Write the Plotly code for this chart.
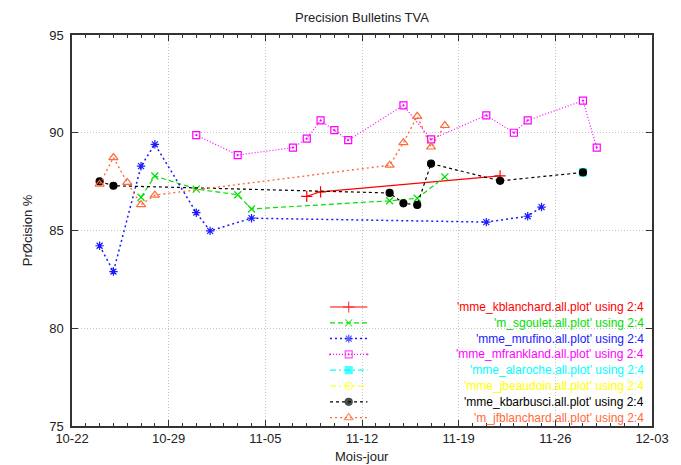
import plotly.graph_objects as go

YEAR = 2007

# ---- data (month-day, precision %) ----
kblanchard_dates = ["11-08", "11-09", "11-22"]
kblanchard_vals = [86.75, 86.98, 87.79]

sgoulet_dates = ["10-27", "10-28", "10-31", "11-03", "11-04", "11-14", "11-16", "11-18"]
sgoulet_vals = [86.70, 87.79, 87.12, 86.83, 86.10, 86.52, 86.65, 87.74]

mrufino_dates = ["10-24", "10-25", "10-27", "10-28", "10-31", "11-01", "11-04", "11-21", "11-24", "11-25"]
mrufino_vals = [84.22, 82.90, 88.29, 89.41, 85.91, 84.98, 85.63, 85.43, 85.73, 86.20]

mfrankland_dates = ["10-31", "11-03", "11-07", "11-08", "11-09", "11-10", "11-11", "11-15", "11-17",
                    "11-21", "11-23", "11-24", "11-28", "11-29"]
mfrankland_vals = [89.88, 88.86, 89.24, 89.70, 90.63, 90.13, 89.62, 91.40, 89.66,
                   90.89, 90.00, 90.63, 91.64, 89.24]

alaroche_dates = ["11-28"]
alaroche_vals = [87.97]

jbeaudoin_dates = []
jbeaudoin_vals = []

kbarbusci_dates = ["10-24", "10-25", "11-14", "11-15", "11-16", "11-17", "11-22", "11-28"]
kbarbusci_vals = [87.51, 87.29, 86.92, 86.39, 86.31, 88.42, 87.54, 87.97]

jfblanchard_dates = ["10-24", "10-25", "10-26", "10-27", "10-28", "11-14", "11-15", "11-16", "11-17", "11-18"]
jfblanchard_vals = [87.37, 88.73, 87.46, 86.32, 86.81, 88.34, 89.49, 90.84, 89.27, 90.37]

tick_labels = ["10-22", "10-29", "11-05", "11-12", "11-19", "11-26", "12-03"]

series = [
    ("'mme_kblanchard.all.plot' using 2:4", kblanchard_dates, kblanchard_vals,
     "#ff0000", "solid", "cross-thin-open", 8, 1.2),
    ("'m_sgoulet.all.plot' using 2:4", sgoulet_dates, sgoulet_vals,
     "#00e000", "5px,3px", "x-thin-open", 7, 1.2),
    ("'mme_mrufino.all.plot' using 2:4", mrufino_dates, mrufino_vals,
     "#1a1aff", "2px,3px", "asterisk-open", 7, 1.5),
    ("'mme_mfrankland.all.plot' using 2:4", mfrankland_dates, mfrankland_vals,
     "#ff00ff", "1px,2px", "square-open-dot", 7, 1.2),
    ("'mme_alaroche.all.plot' using 2:4", alaroche_dates, alaroche_vals,
     "#00ffff", "6px,3px,2px,3px", "square", 7, 1.2),
    ("'mme_jbeaudoin.all.plot' using 2:4", jbeaudoin_dates, jbeaudoin_vals,
     "#ffff00", "6px,3px,2px,3px", "circle-open", 7, 1.2),
    ("'mme_kbarbusci.all.plot' using 2:4", kbarbusci_dates, kbarbusci_vals,
     "#000000", "3px,3px", "circle", 7, 1.2),
    ("'m_jfblanchard.all.plot' using 2:4", jfblanchard_dates, jfblanchard_vals,
     "#ff6a3a", "2px,3px", "triangle-up-open", 8, 1.4),
]

FONT = "Liberation Sans, Arial, sans-serif"
FS = 13
KEY_FS = 12

# page offset (body margin) and target geometry in window pixels
OFF = 8
W, H = 681 - OFF, 465 - OFF
plot_top, plot_bot = 35, 426
plot_left, plot_right = 72, 661
PW, PH = plot_right - plot_left, plot_bot - plot_top

fig = go.Figure()

for name, dates, vals, color, dash, sym, msize, lw in series:
    fig.add_trace(go.Scatter(
        x=[f"{YEAR}-{d}" for d in dates], y=vals, mode="lines+markers",
        name=name, showlegend=False,
        line=dict(color=color, dash=dash, width=lw),
        marker=dict(symbol=sym, size=msize, color=color, line=dict(color=color, width=1.2)),
    ))

# ---- gnuplot-style key (samples on an overlay axis in plot-fraction units) ----
row0, row_step = 307, 15.8
sx0, sx1 = 334, 372
tx = 654
annotations = []
for i, (name, dates, vals, color, dash, sym, msize, lw) in enumerate(series):
    ypix = row0 + i * row_step
    yf = (plot_bot - ypix) / PH
    x0f = (sx0 - plot_left) / PW
    x1f = (sx1 - plot_left) / PW
    fig.add_trace(go.Scatter(
        x=[x0f, (x0f + x1f) / 2, x1f], y=[yf, yf, yf], mode="lines+markers",
        xaxis="x2", yaxis="y2", showlegend=False, hoverinfo="skip",
        line=dict(color=color, dash=dash, width=lw),
        marker=dict(symbol=sym, size=[0, msize, 0], color=color, line=dict(color=color, width=1.2)),
    ))
    annotations.append(dict(
        xref="paper", yref="paper", x=(tx - plot_left) / PW, y=yf,
        xanchor="right", yanchor="middle", text=name, showarrow=False,
        borderpad=0,
        font=dict(family=FONT, size=KEY_FS, color=color),
    ))

annotations.append(dict(
    xref="paper", yref="paper", x=0.5, y=-(457 - plot_bot) / PH,
    xanchor="center", yanchor="middle", text="Mois-jour", showarrow=False,
    font=dict(family=FONT, size=FS, color="#222"),
))
annotations.append(dict(
    xref="paper", yref="paper", x=-(plot_left - 27) / PW, y=0.5,
    xanchor="center", yanchor="middle", text="PrØcision %", showarrow=False, textangle=-90,
    font=dict(family=FONT, size=FS, color="#222"),
))

fig.update_layout(
    width=W, height=H,
    margin=dict(l=plot_left - OFF, r=(OFF + W) - plot_right, t=plot_top - OFF, b=(OFF + H) - plot_bot),
    paper_bgcolor="white", plot_bgcolor="white",
    font=dict(family=FONT, size=FS, color="#222"),
    title=dict(text="Precision Bulletins TVA", x=0.5, xref="paper", xanchor="center",
               y=1 - (17 - OFF) / H, yref="container", yanchor="middle",
               font=dict(family=FONT, size=FS, color="#222")),
    xaxis=dict(
        type="date", range=[f"{YEAR}-10-22", f"{YEAR}-12-03"],
        tickvals=[f"{YEAR}-{t}" for t in tick_labels], ticktext=tick_labels,
        ticks="inside", ticklen=6, tickcolor="#333", mirror="allticks",
        showline=True, linecolor="#333", linewidth=1.5,
        showgrid=True, gridcolor="#c4c4c4", griddash="1px,2px", gridwidth=1,
        zeroline=False,
        minor=dict(dtick=86400000, tick0=f"{YEAR}-10-22", ticks="inside", ticklen=3,
                   tickcolor="#333", showgrid=False),
        tickfont=dict(family=FONT, size=FS, color="#222"),
    ),
    yaxis=dict(
        range=[75, 95], tickvals=[75, 80, 85, 90, 95],
        ticks="inside", ticklen=6, tickcolor="#333", mirror="allticks",
        showline=True, linecolor="#333", linewidth=1.5,
        showgrid=True, gridcolor="#c4c4c4", griddash="1px,2px", gridwidth=1,
        zeroline=False, ticklabelstandoff=4,
        tickfont=dict(family=FONT, size=FS, color="#222"),
    ),
    xaxis2=dict(overlaying="x", range=[0, 1], visible=False, fixedrange=True),
    yaxis2=dict(overlaying="y", range=[0, 1], visible=False, fixedrange=True),
    annotations=annotations,
    showlegend=False,
)

fig.write_html("out.html")
